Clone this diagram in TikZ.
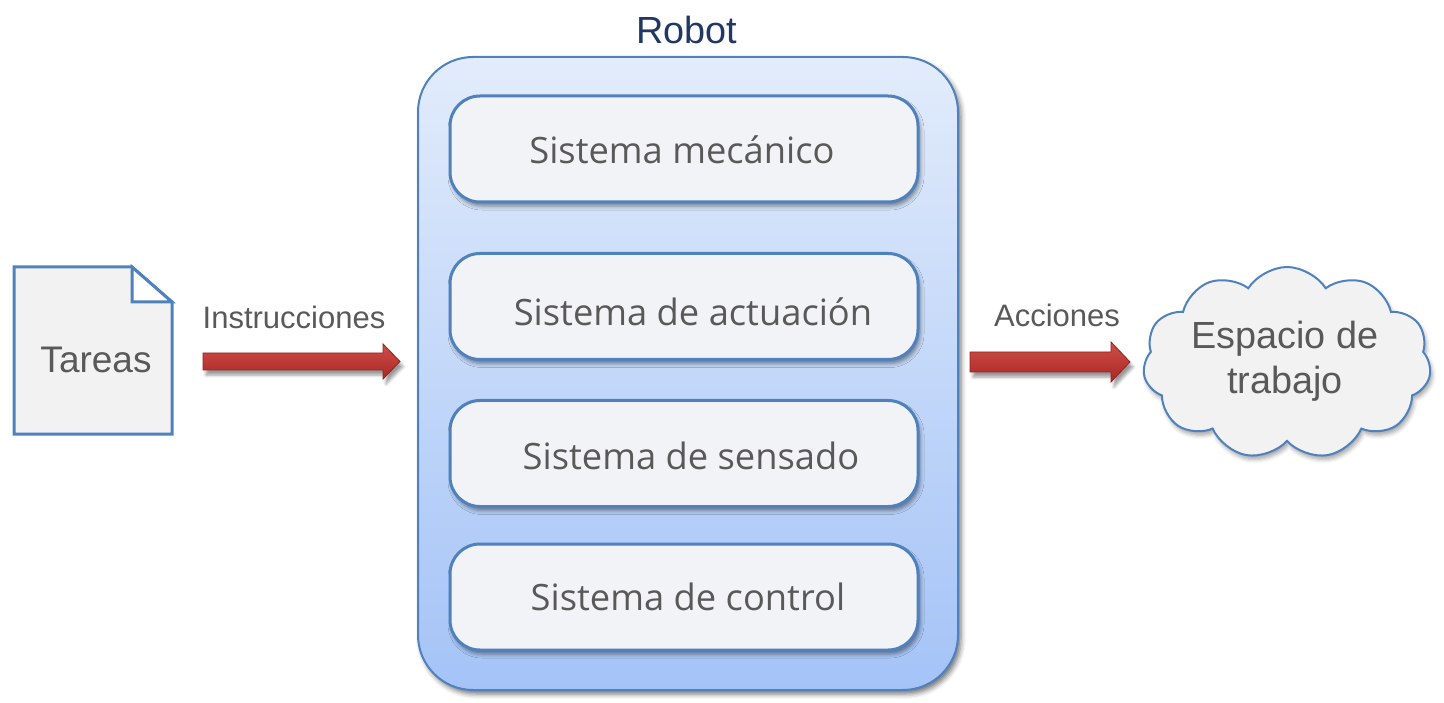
\documentclass[tikz,border=0pt]{standalone}
\usepackage{fontspec}
\setmainfont{Liberation Sans}
\newfontfamily\segoe{Open Sans}
\usetikzlibrary{shapes.symbols,shadows.blur,calc}
\definecolor{bluebd}{RGB}{79,129,189}
\definecolor{txtgray}{RGB}{89,89,89}
\definecolor{navy}{RGB}{31,56,100}
\definecolor{robtop}{RGB}{226,236,251}
\definecolor{robbot}{RGB}{164,195,247}
\definecolor{boxfill}{RGB}{242,243,246}
\definecolor{docfill}{RGB}{242,242,242}
\definecolor{arTop}{RGB}{208,78,72}
\definecolor{arMid}{RGB}{236,122,115}
\definecolor{arBot}{RGB}{168,40,36}
\definecolor{arBd}{RGB}{145,35,32}
\tikzset{
  robotbox/.style={draw=bluebd, line width=2pt, rounded corners=55pt,
    top color=robtop, bottom color=robbot,
    minimum width=540pt, minimum height=633pt, inner sep=0pt,
    blur shadow={shadow xshift=3pt, shadow yshift=-4pt, shadow blur radius=5pt, shadow opacity=55}},
  sysbox/.style={draw=bluebd, line width=3pt, rounded corners=30pt, fill=boxfill,
    minimum width=468pt, minimum height=106pt, inner sep=0pt,
    blur shadow={shadow xshift=2pt, shadow yshift=-4pt, shadow blur radius=4pt, shadow opacity=45}},
  systext/.style={font=\segoe\fontsize{36.3}{40}\selectfont, text=txtgray, inner sep=0pt},
  lbl/.style={font=\fontsize{31}{34}\selectfont, text=txtgray, inner sep=0pt},
  fatarrow/.style={draw=arBd, line width=0.8pt, top color=arTop, middle color=arMid, bottom color=arBot,
    blur shadow={shadow xshift=3pt, shadow yshift=-5pt, shadow blur radius=3pt, shadow opacity=40}},
}
\begin{document}
\begin{tikzpicture}[x=1pt,y=-1pt]
\useasboundingbox (0,0) rectangle (1444,703);

% Robot container
\node[robotbox] (robot) at (688,373.5) {};
\node[font=\fontsize{37.8}{42}\selectfont, text=navy, inner sep=0pt] (robotT) at (687,30) {Robot};

% subsystems
\node[sysbox] (mech) at (684,149) {};
\node[sysbox] (act)  at (684,306.5) {};
\node[sysbox] (sens) at (684,453.5) {};
\node[sysbox] (ctrl) at (684,597) {};
\node[systext] (mechT) at (682,150) {Sistema mecánico};
\node[systext] (actT)  at (693,312) {Sistema de actuación};
\node[systext] (sensT) at (691,456) {Sistema de sensado};
\node[systext] (ctrlT) at (688,597) {Sistema de control};

% Tareas document
\draw[draw=bluebd, line width=3pt, fill=docfill, line join=miter]
  (14,267) -- (132,267) -- (172,302) -- (172,434) -- (14,434) -- cycle;
\draw[draw=bluebd, line width=3pt, fill=white, line join=miter]
  (132,267) -- (132,302) -- (172,302) -- cycle;
\node[font=\fontsize{37}{40}\selectfont, text=txtgray, inner sep=0pt] (tareas) at (96,360) {Tareas};

% Cloud
\node[cloud, cloud puffs=11, cloud puff arc=115, aspect=1.55, draw=bluebd, line width=2pt, fill=docfill,
  minimum width=288pt, minimum height=192pt, inner sep=0pt,
  blur shadow={shadow xshift=2pt, shadow yshift=-4pt, shadow blur radius=4pt, shadow opacity=35}]
  (cloud) at (1287,363) {};
\node[font=\fontsize{37.8}{45}\selectfont, text=txtgray, inner sep=0pt, align=center] (cloudT) at (1285,361) {Espacio de\\trabajo};

% labels
\node[lbl] (instr) at (294,317) {Instrucciones};
\node[lbl] (acc) at (1057,315) {Acciones};

% arrows
\coordinate (ia) at (203,361.5);
\coordinate (ib) at (400,361.5);
\path[fatarrow] ($(ia)+(0,-8.5)$) -- ($(ib)+(-17,-8.5)$) -- ($(ib)+(-17,-17.5)$) -- (ib)
  -- ($(ib)+(-17,17.5)$) -- ($(ib)+(-17,8.5)$) -- ($(ia)+(0,8.5)$) -- cycle;
\coordinate (aa) at (970,362);
\coordinate (ab) at (1130,362);
\path[fatarrow] ($(aa)+(0,-10)$) -- ($(ab)+(-19,-10)$) -- ($(ab)+(-19,-20)$) -- (ab)
  -- ($(ab)+(-19,20)$) -- ($(ab)+(-19,10)$) -- ($(aa)+(0,10)$) -- cycle;
\end{tikzpicture}
\end{document}
